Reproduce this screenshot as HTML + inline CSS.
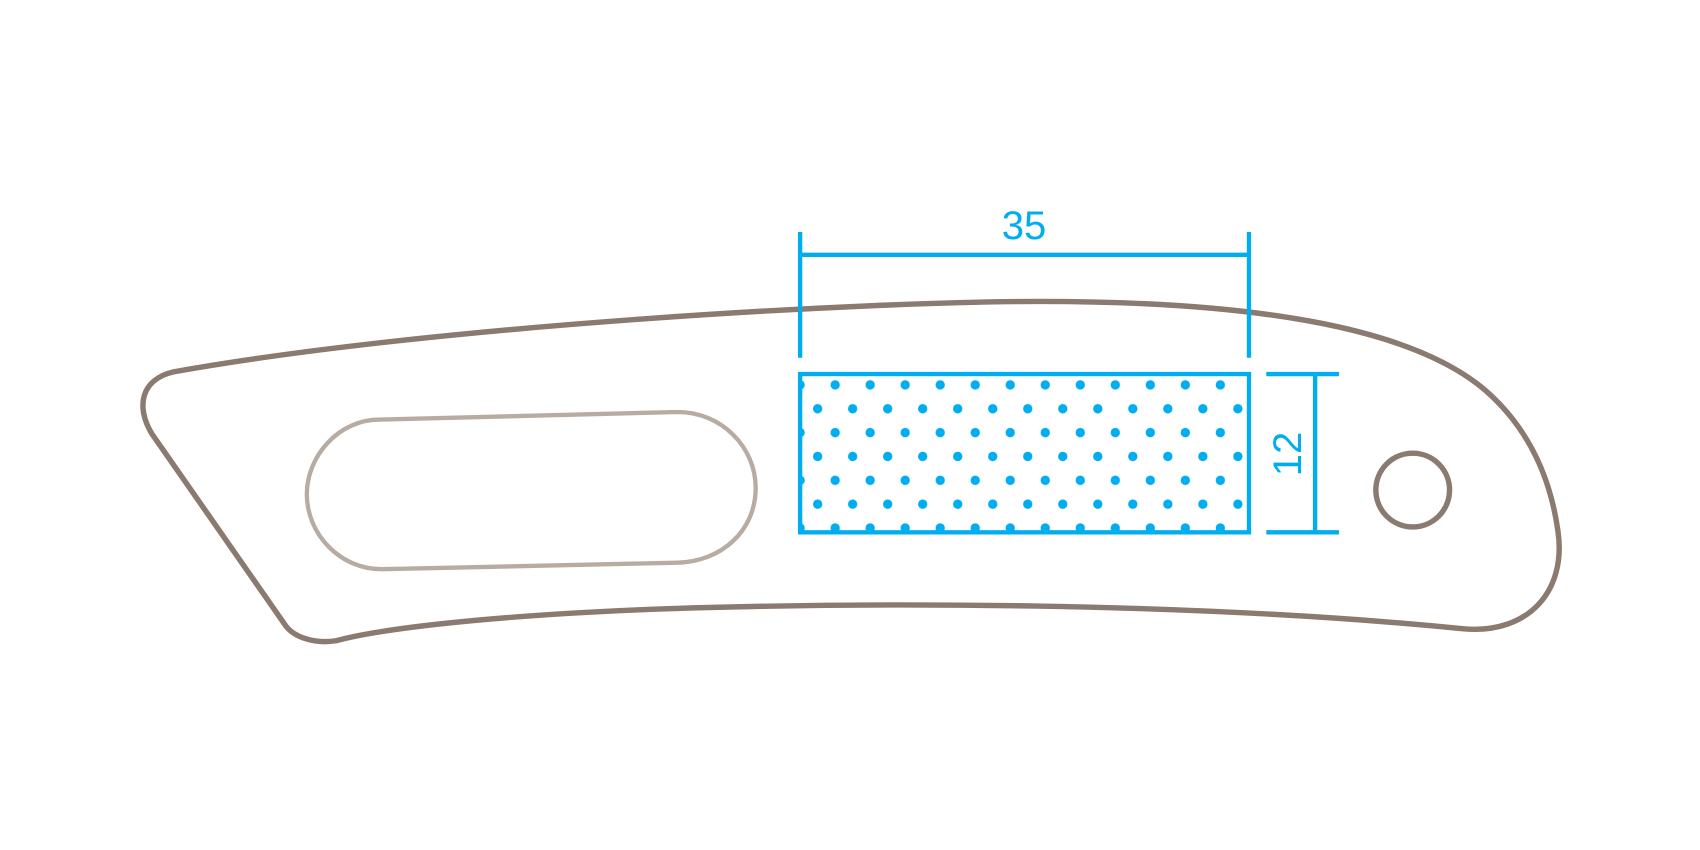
<!DOCTYPE html>
<html><head><style>html,body{margin:0;padding:0;background:#fff}svg{display:block}
.t{position:absolute;font-family:"Liberation Sans",sans-serif;font-size:40px;line-height:40px;height:40px;color:#00aeef;width:100px;text-align:center}</style></head>
<body>
<div style="position:relative;width:1700px;height:850px;overflow:hidden">
<svg width="1700" height="850" viewBox="0 0 1568 784" xmlns="http://www.w3.org/2000/svg">
<defs>
<pattern id="dots" x="738" y="355" width="32.3" height="44" patternUnits="userSpaceOnUse">
<circle cx="0" cy="0" r="4.3" fill="#00aeef"/>
<circle cx="32.3" cy="0" r="4.3" fill="#00aeef"/>
<circle cx="16.15" cy="22" r="4.3" fill="#00aeef"/>
<circle cx="0" cy="44" r="4.3" fill="#00aeef"/>
<circle cx="32.3" cy="44" r="4.3" fill="#00aeef"/>
</pattern>
<clipPath id="rc"><rect x="738" y="345" width="414" height="146"/></clipPath>
</defs>
<path d="M160,343 C400,300 800,278 960,278 C1150,278 1300,300 1370,360 C1410,395 1430,440 1437,490 C1445,545 1410,585 1350,580 C1100,555 800,555 600,562 C450,568 350,580 310,591 C290,594 270,588 262,575 L140,400 C125,375 130,350 160,343 Z" fill="none" stroke="#8a7a6f" stroke-width="5"/>
<path d="M350,387 L625,380 C665,380 697,412 697,450 C697,490 665,518 625,519 L352,525 C313,525 283,492 283,456 C283,420 313,387 350,387 Z" fill="none" stroke="#b8aca2" stroke-width="4"/>
<circle cx="1303" cy="452" r="34" fill="none" stroke="#8a7a6f" stroke-width="5"/>
<g clip-path="url(#rc)"><rect x="738" y="345" width="414" height="150" fill="url(#dots)"/></g>
<rect x="738" y="345" width="414" height="146" fill="none" stroke="#00aeef" stroke-width="4"/>
<g stroke="#00aeef" stroke-width="4">
<line x1="738" y1="214" x2="738" y2="330"/>
<line x1="1152" y1="214" x2="1152" y2="330"/>
<line x1="738" y1="235" x2="1152" y2="235"/>
<line x1="1168" y1="345" x2="1235" y2="345"/>
<line x1="1168" y1="491" x2="1235" y2="491"/>
<line x1="1213" y1="345" x2="1213" y2="491"/>
</g>
</svg>
<div class="t" style="left:974px;top:206px">35</div>
<div class="t" style="left:1238px;top:434px;transform:rotate(-90deg)">12</div>
</div>
</body></html>
